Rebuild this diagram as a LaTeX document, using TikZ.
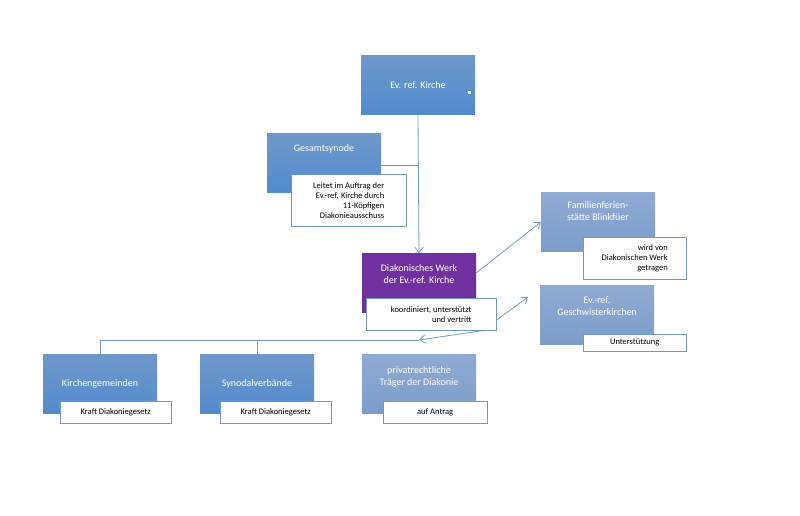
\documentclass[tikz,border=0pt]{standalone}
\usepackage{fontspec}
\setmainfont{Carlito}
\usetikzlibrary{arrows.meta,positioning}
\definecolor{boxblue}{HTML}{4A7EBB}
\definecolor{boxlight}{HTML}{7C9CCB}
\definecolor{boxpurple}{HTML}{7030A0}
\definecolor{linkblue}{HTML}{6F98C8}
\begin{document}
\begin{tikzpicture}[x=1pt,y=-1pt]
    \tikzstyle{unit} = [shape=rectangle, top color=boxblue!80, bottom color=boxblue!110!black, draw=none, text=white, minimum width=114pt, minimum height=59pt, align=center, font=\fontsize{10}{12}\selectfont];
    \tikzstyle{light} = [unit, top color=boxlight!85, bottom color=boxlight];
    \tikzstyle{note} = [shape=rectangle, fill=white, draw=linkblue, thin, align=right, inner sep=2pt, font=\fontsize{8.5}{10}\selectfont, anchor=north west];
    \tikzstyle{link} = [draw=linkblue, line width=0.8pt];

    \useasboundingbox (0,0) rectangle (800,515);

    \node[unit](K) at (418,85) {Ev. ref. Kirche};
    \fill[white] (468,91) rectangle (471,94);
    \node[unit](G) at (324,163) {Gesamtsynode\\[18pt]};
    \node[note, minimum width=115pt, minimum height=52pt](GN) at (291,174) {Leitet im Auftrag der\\Ev.-ref. Kirche durch\\11-Köpfigen\\Diakonieausschuss};
    \node[unit, top color=boxpurple, bottom color=boxpurple](D) at (419,283) {Diakonisches Werk\\der Ev.-ref. Kirche\\[6pt]};
    \node[note, minimum width=130pt, minimum height=32pt](DN) at (366,298) {koordiniert, unterstützt\\und vertritt};
    \node[light](F) at (598,222) {Familienferien-\\stätte Blinkfüer\\[10pt]};
    \node[note, minimum width=103pt, minimum height=42pt](FN) at (583,237) {wird von\\Diakonischen Werk\\getragen};
    \node[light](S) at (597,315) {Ev.-ref.\\Geschwisterkirchen\\[6pt]};
    \node[note, minimum width=103pt, minimum height=17pt](SN) at (583,334) {Unterstützung};
    \node[unit](KG) at (100,384) {Kirchengemeinden};
    \node[note, minimum width=111pt, minimum height=22pt](KGN) at (60,401) {Kraft Diakoniegesetz};
    \node[unit](SV) at (257,384) {Synodalverbände};
    \node[note, minimum width=111pt, minimum height=22pt](SVN) at (220,401) {Kraft Diakoniegesetz};
    \node[light](PT) at (419,384) {privatrechtliche\\Träger der Diakonie\\[4pt]};
    \node[note, minimum width=104pt, minimum height=22pt](PTN) at (383,401) {auf Antrag};

    \coordinate (J) at (419,165);
    \coordinate (B) at (419,340);
    \draw[link, -{Straight Barb[length=2mm,width=3mm]}] (K.south) -- (D.north);
    \draw[link] (G.east |- J) -- (J);
    \draw[link, -{Straight Barb[length=2mm,width=3mm]}] (D.east) ++(0,-10) -- (F.west);
    \draw[link, -{Straight Barb[length=2mm,width=3mm]}] (DN.east) ++(0,6) -- (528,297);
    \draw[link, -{Straight Barb[length=2mm,width=3mm]}] (DN.south) ++(53,0) -- (B);
    \draw[link] (B) -- (KG.north |- B) -- (KG.north);
    \draw[link] (SV.north |- B) -- (SV.north);
\end{tikzpicture}
\end{document}
